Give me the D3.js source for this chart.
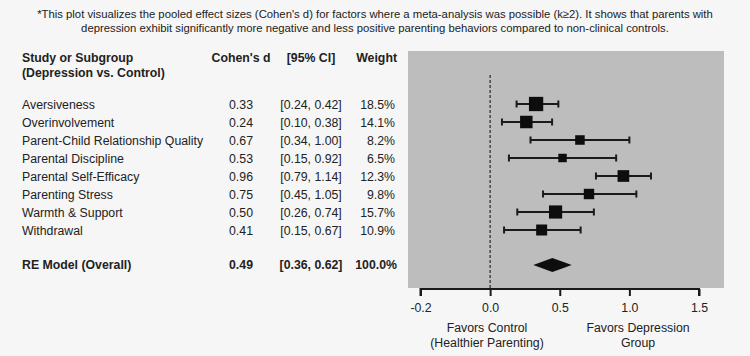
<!DOCTYPE html>
<html><head><meta charset="utf-8">
<script src="https://cdn.jsdelivr.net/npm/d3@7/dist/d3.min.js"></script>
<style>
html,body{margin:0;padding:0;background:#f6f6f6;}
svg{display:block;font-family:"Liberation Sans",Arial,sans-serif;}
</style></head><body>
<svg id="chart" width="750" height="356"></svg>
<script>
// ---- data ----
const noteLines = [
  "*This plot visualizes the pooled effect sizes (Cohen's d) for factors where a meta-analysis was possible (k\u22652). It shows that parents with",
  "depression exhibit significantly more negative and less positive parenting behaviors compared to non-clinical controls."
];
const headers = ["Study or Subgroup", "(Depression vs. Control)", "Cohen's d", "[95% CI]", "Weight"];
const studies = ["Aversiveness","Overinvolvement","Parent-Child Relationship Quality","Parental Discipline","Parental Self-Efficacy","Parenting Stress","Warmth & Support","Withdrawal"];
const dText = ["0.33","0.24","0.67","0.53","0.96","0.75","0.50","0.41"];
const ciText = ["[0.24, 0.42]","[0.10, 0.38]","[0.34, 1.00]","[0.15, 0.92]","[0.79, 1.14]","[0.45, 1.05]","[0.26, 0.74]","[0.15, 0.67]"];
const weights = [18.5, 14.1, 8.2, 6.5, 12.3, 9.8, 15.7, 10.9];
// plotted positions
const estimates = [0.33, 0.26, 0.645, 0.52, 0.957, 0.71, 0.47, 0.37];
const lower = [0.19, 0.085, 0.29, 0.135, 0.76, 0.38, 0.195, 0.10];
const upper = [0.49, 0.445, 1.0, 0.905, 1.155, 1.05, 0.745, 0.65];
const overallLabel = "RE Model (Overall)";
const overallText = ["0.49", "[0.36, 0.62]", "100.0%"];
const overall = {est: 0.447, lo: 0.31, hi: 0.586};
const tickValues = [-0.5, 0, 0.5, 1.0, 1.5];
const tickLabels = ["-0.2", "0.0", "0.5", "1.0", "1.5"];
const favorsLeft = ["Favors Control", "(Healthier Parenting)"];
const favorsRight = ["Favors Depression", "Group"];

// ---- layout ----
const svg = d3.select("#chart");
const txt = "#222";
const fs = 12.3;

svg.append("g").selectAll("text").data(noteLines).join("text")
  .attr("x", 375).attr("y", (d,i) => 18 + i*14)
  .attr("text-anchor","middle").attr("font-size", 11.3).attr("fill", txt)
  .text(d => d);

const panel = {x0: 408, x1: 724, y0: 51, y1: 288};
svg.append("rect").attr("x", panel.x0).attr("y", panel.y0)
  .attr("width", panel.x1 - panel.x0).attr("height", panel.y1 - panel.y0)
  .attr("fill", "#bdbdbd");

const x = d3.scaleLinear().domain([-0.5, 1.5]).range([420.5, 699]);
const rowIdx = d3.range(studies.length);
const y = d3.scalePoint().domain(rowIdx).range([104, 230]);
const yOverall = 265;
const size = d3.scaleSqrt().domain([0, d3.max(weights)]).range([0, 14.3]);

// headers
const hg = svg.append("g").attr("font-weight","bold").attr("font-size", fs).attr("fill", txt);
hg.append("text").attr("x",22).attr("y",62).text(headers[0]);
hg.append("text").attr("x",22).attr("y",77).text(headers[1]);
hg.append("text").attr("x",241).attr("y",62).attr("text-anchor","middle").text(headers[2]);
hg.append("text").attr("x",311).attr("y",62).attr("text-anchor","middle").text(headers[3]);
hg.append("text").attr("x",397).attr("y",62).attr("text-anchor","end").text(headers[4]);

// table rows
const tg = svg.append("g").attr("font-size", fs).attr("fill", txt);
const rows = tg.selectAll("g.row").data(rowIdx).join("g").attr("class","row")
  .attr("transform", i => `translate(0,${y(i) + 4.5})`);
rows.append("text").attr("x",22).text(i => studies[i]);
rows.append("text").attr("x",241).attr("text-anchor","middle").text(i => dText[i]);
rows.append("text").attr("x",311).attr("text-anchor","middle").text(i => ciText[i]);
rows.append("text").attr("x",395).attr("text-anchor","end").text(i => weights[i].toFixed(1) + "%");

const og = svg.append("g").attr("font-size", fs).attr("font-weight","bold").attr("fill", txt)
  .attr("transform", `translate(0,${yOverall + 4})`);
og.append("text").attr("x",22).text(overallLabel);
og.append("text").attr("x",241).attr("text-anchor","middle").text(overallText[0]);
og.append("text").attr("x",311).attr("text-anchor","middle").text(overallText[1]);
og.append("text").attr("x",397).attr("text-anchor","end").text(overallText[2]);

// zero line
svg.append("line").attr("x1", x(0)).attr("x2", x(0)).attr("y1", 75).attr("y2", panel.y1)
  .attr("stroke", "#333").attr("stroke-width", 1.3).attr("stroke-dasharray", "3,2");

// CIs
const cg = svg.append("g").attr("stroke", "#1a1a1a").attr("stroke-width", 2);
cg.selectAll("line.ci").data(rowIdx).join("line").attr("class","ci")
  .attr("x1", i => x(lower[i])).attr("x2", i => x(upper[i]))
  .attr("y1", i => y(i)).attr("y2", i => y(i));
cg.selectAll("line.capl").data(rowIdx).join("line").attr("class","capl")
  .attr("x1", i => x(lower[i])).attr("x2", i => x(lower[i]))
  .attr("y1", i => y(i) - 3.5).attr("y2", i => y(i) + 3.5);
cg.selectAll("line.capr").data(rowIdx).join("line").attr("class","capr")
  .attr("x1", i => x(upper[i])).attr("x2", i => x(upper[i]))
  .attr("y1", i => y(i) - 3.5).attr("y2", i => y(i) + 3.5);

svg.append("g").selectAll("rect").data(rowIdx).join("rect")
  .attr("x", i => x(estimates[i]) - size(weights[i]) / 2)
  .attr("y", i => y(i) - size(weights[i]) / 2)
  .attr("width", i => size(weights[i])).attr("height", i => size(weights[i]))
  .attr("fill", "#0d0d0d");

// diamond
const dh = 7;
svg.append("path")
  .attr("d", `M${x(overall.lo)},${yOverall} L${x(overall.est)},${yOverall - dh} L${x(overall.hi)},${yOverall} L${x(overall.est)},${yOverall + dh} Z`)
  .attr("fill", "#0d0d0d");

// axis
const axis = d3.axisBottom(x).tickValues(tickValues).tickSize(7)
  .tickFormat((d, i) => tickLabels[i]);
const ag = svg.append("g").attr("transform", `translate(0,${panel.y1 + 1})`).call(axis);
ag.select(".domain").attr("stroke", "#1a1a1a").attr("stroke-width", 2)
  .attr("d", `M${x(-0.5)},7V0H${x(1.5)}V7`);
ag.selectAll(".tick line").attr("stroke", "#1a1a1a").attr("stroke-width", 2);
ag.selectAll(".tick text").attr("font-size", fs).attr("fill", txt)
  .attr("font-family", "Liberation Sans, Arial, sans-serif").attr("dy", "1.05em");

// favors labels
const fg = svg.append("g").attr("font-size", fs).attr("fill", txt).attr("text-anchor","middle");
fg.selectAll("text.l").data(favorsLeft).join("text").attr("class","l")
  .attr("x", 487).attr("y", (d,i) => 332 + i*14.5).text(d => d);
fg.selectAll("text.r").data(favorsRight).join("text").attr("class","r")
  .attr("x", 638).attr("y", (d,i) => 332 + i*14.5).text(d => d);
</script>
</body></html>
